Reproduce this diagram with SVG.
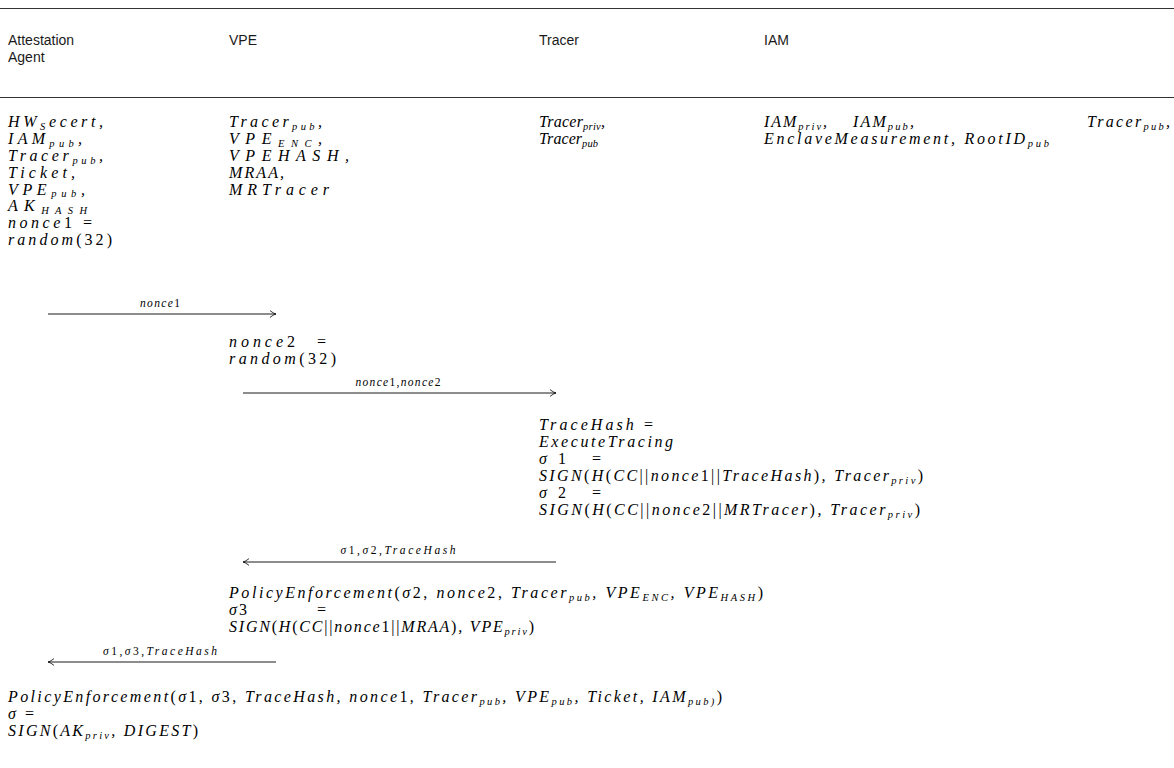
<svg xmlns="http://www.w3.org/2000/svg" width="1174" height="768" viewBox="0 0 1174 768">
<defs>
<style>
.h{font-family:"Liberation Sans",Arial,sans-serif;font-size:14px;fill:#1a1a1a}
.m{font-family:"Liberation Serif","Times New Roman",serif;font-size:16px;font-style:italic;fill:#000}
.u{font-style:normal}
.s{font-size:10.5px}
.lbl{font-family:"Liberation Serif","Times New Roman",serif;font-size:11.5px;font-style:italic;text-anchor:middle;fill:#000}
.rule{stroke:#333;stroke-width:1}
.msg{stroke:#000;stroke-width:0.9;fill:none}
</style>
<marker id="head" markerUnits="userSpaceOnUse" viewBox="-8 -5 10 10" refX="0" refY="0" markerWidth="10" markerHeight="10" orient="auto">
<path d="M-6,-3.4 C-3,-1 -1,-0.3 0,0 C-1,0.3 -3,1 -6,3.4" fill="none" stroke="#000" stroke-width="0.8"/>
</marker>
</defs>
<rect width="1174" height="768" fill="#fff"/>

<!-- table rules -->
<line class="rule" x1="0" y1="8.5" x2="1174" y2="8.5"/>
<line class="rule" x1="0" y1="97.5" x2="1174" y2="97.5"/>

<!-- participant headings -->
<g id="headers">
<text class="h" x="8" y="45">Attestation</text>
<text class="h" x="8" y="62">Agent</text>
<text class="h" x="229" y="45">VPE</text>
<text class="h" x="539" y="45">Tracer</text>
<text class="h" x="764" y="45">IAM</text>
</g>

<!-- Attestation Agent -->
<g id="agent">
<text class="m" x="8" y="127" textLength="95" lengthAdjust="spacing">HW<tspan class="s" dy="2.5">S</tspan><tspan dy="-2.5">ecert,</tspan></text>
<text class="m" x="8" y="144" textLength="74" lengthAdjust="spacing">IAM<tspan class="s" dy="2.5">pub</tspan><tspan dy="-2.5">,</tspan></text>
<text class="m" x="8" y="161" textLength="95" lengthAdjust="spacing">Tracer<tspan class="s" dy="2.5">pub</tspan><tspan dy="-2.5">,</tspan></text>
<text class="m" x="8" y="177.5" textLength="67" lengthAdjust="spacing">Ticket,</text>
<text class="m" x="8" y="194.5" textLength="77" lengthAdjust="spacing">VPE<tspan class="s" dy="2.5">pub</tspan><tspan dy="-2.5">,</tspan></text>
<text class="m" x="8" y="211" textLength="79" lengthAdjust="spacing">AK<tspan class="s" dy="2.5">HASH</tspan></text>
<text class="m" x="8" y="228" textLength="84" lengthAdjust="spacing">nonce<tspan class="u">1 =</tspan></text>
<text class="m" x="8" y="245" textLength="104" lengthAdjust="spacing">random<tspan class="u">(32)</tspan></text>
<text class="m" x="8" y="702" textLength="714" lengthAdjust="spacing">PolicyEnforcement<tspan class="u">(</tspan>σ<tspan class="u">1, </tspan>σ<tspan class="u">3, </tspan>TraceHash, nonce<tspan class="u">1, </tspan>Tracer<tspan class="s" dy="2.5">pub</tspan><tspan dy="-2.5">, VPE</tspan><tspan class="s" dy="2.5">pub</tspan><tspan dy="-2.5">, Ticket, IAM</tspan><tspan class="s" dy="2.5">pub)</tspan><tspan class="u" dy="-2.5">)</tspan></text>
<text class="m" x="8" y="719" textLength="26" lengthAdjust="spacing">σ <tspan class="u">=</tspan></text>
<text class="m" x="8" y="736" textLength="190" lengthAdjust="spacing">SIGN<tspan class="u">(</tspan>AK<tspan class="s" dy="2.5">priv</tspan><tspan dy="-2.5">, DIGEST</tspan><tspan class="u">)</tspan></text>
</g>

<!-- VPE -->
<g id="vpe">
<text class="m" x="229" y="127" textLength="93" lengthAdjust="spacing">Tracer<tspan class="s" dy="2.5">pub</tspan><tspan dy="-2.5">,</tspan></text>
<text class="m" x="229" y="144" textLength="93" lengthAdjust="spacing">VPE<tspan class="s" dy="2.5">ENC</tspan><tspan dy="-2.5">,</tspan></text>
<text class="m" x="229" y="161" textLength="120" lengthAdjust="spacing">VPEHASH,</text>
<text class="m" x="229" y="177.5" textLength="55" lengthAdjust="spacing">MRAA,</text>
<text class="m" x="229" y="194.5" textLength="100" lengthAdjust="spacing">MRTracer</text>
<text class="m" x="229" y="347" textLength="66" lengthAdjust="spacing">nonce<tspan class="u">2</tspan></text>
<text class="m u" x="317" y="347">=</text>
<text class="m" x="229" y="364" textLength="107" lengthAdjust="spacing">random<tspan class="u">(32)</tspan></text>
<text class="m" x="229" y="598" textLength="534" lengthAdjust="spacing">PolicyEnforcement<tspan class="u">(</tspan>σ<tspan class="u">2, </tspan>nonce<tspan class="u">2, </tspan>Tracer<tspan class="s" dy="2.5">pub</tspan><tspan dy="-2.5">, VPE</tspan><tspan class="s" dy="2.5">ENC</tspan><tspan dy="-2.5">, VPE</tspan><tspan class="s" dy="2.5">HASH</tspan><tspan class="u" dy="-2.5">)</tspan></text>
<text class="m" x="229" y="615" textLength="18" lengthAdjust="spacing">σ<tspan class="u">3</tspan></text>
<text class="m u" x="317" y="615">=</text>
<text class="m" x="229" y="632" textLength="305" lengthAdjust="spacing">SIGN<tspan class="u">(</tspan>H<tspan class="u">(</tspan>CC<tspan class="u">||</tspan>nonce<tspan class="u">1||</tspan>MRAA<tspan class="u">)</tspan>, VPE<tspan class="s" dy="2.5">priv</tspan><tspan class="u" dy="-2.5">)</tspan></text>
</g>

<!-- Tracer -->
<g id="tracer">
<text class="m" x="539" y="127" textLength="66" lengthAdjust="spacing">Tracer<tspan class="s" dy="2.5">priv</tspan><tspan dy="-2.5">,</tspan></text>
<text class="m" x="539" y="144" textLength="59" lengthAdjust="spacing">Tracer<tspan class="s" dy="2.5">pub</tspan></text>
<text class="m" x="539" y="430" textLength="114" lengthAdjust="spacing">TraceHash <tspan class="u">=</tspan></text>
<text class="m" x="539" y="447" textLength="134" lengthAdjust="spacing">ExecuteTracing</text>
<text class="m" x="539" y="464" textLength="62" lengthAdjust="spacing">σ<tspan class="u">1 =</tspan></text>
<text class="m" x="539" y="481" textLength="384" lengthAdjust="spacing">SIGN<tspan class="u">(</tspan>H<tspan class="u">(</tspan>CC<tspan class="u">||</tspan>nonce<tspan class="u">1||</tspan>TraceHash<tspan class="u">)</tspan>, Tracer<tspan class="s" dy="2.5">priv</tspan><tspan class="u" dy="-2.5">)</tspan></text>
<text class="m" x="539" y="498" textLength="62" lengthAdjust="spacing">σ<tspan class="u">2 =</tspan></text>
<text class="m" x="539" y="515" textLength="381" lengthAdjust="spacing">SIGN<tspan class="u">(</tspan>H<tspan class="u">(</tspan>CC<tspan class="u">||</tspan>nonce<tspan class="u">2||</tspan>MRTracer<tspan class="u">)</tspan>, Tracer<tspan class="s" dy="2.5">priv</tspan><tspan class="u" dy="-2.5">)</tspan></text>
</g>

<!-- IAM -->
<g id="iam">
<text class="m" x="764" y="127" textLength="63" lengthAdjust="spacing">IAM<tspan class="s" dy="2.5">priv</tspan><tspan dy="-2.5">,</tspan></text>
<text class="m" x="853" y="127" textLength="61" lengthAdjust="spacing">IAM<tspan class="s" dy="2.5">pub</tspan><tspan dy="-2.5">,</tspan></text>
<text class="m" x="1087" y="127" textLength="83" lengthAdjust="spacing">Tracer<tspan class="s" dy="2.5">pub</tspan><tspan dy="-2.5">,</tspan></text>
<text class="m" x="764" y="144" textLength="285" lengthAdjust="spacing">EnclaveMeasurement, RootID<tspan class="s" dy="2.5">pub</tspan></text>
</g>

<!-- messages -->
<g id="connectors">
<line class="msg" x1="48" y1="314" x2="276" y2="314" marker-end="url(#head)"/>
<text class="lbl" x="160" y="307" textLength="40" lengthAdjust="spacing">nonce<tspan class="u">1</tspan></text>
<line class="msg" x1="243" y1="393" x2="556" y2="393" marker-end="url(#head)"/>
<text class="lbl" x="398" y="386" textLength="85" lengthAdjust="spacing">nonce<tspan class="u">1,</tspan>nonce<tspan class="u">2</tspan></text>
<line class="msg" x1="556" y1="562" x2="243" y2="562" marker-end="url(#head)"/>
<text class="lbl" x="398" y="554" textLength="115" lengthAdjust="spacing">σ<tspan class="u">1,</tspan>σ<tspan class="u">2,</tspan>TraceHash</text>
<line class="msg" x1="276" y1="662" x2="48" y2="662" marker-end="url(#head)"/>
<text class="lbl" x="160" y="655" textLength="114" lengthAdjust="spacing">σ<tspan class="u">1,</tspan>σ<tspan class="u">3,</tspan>TraceHash</text>
</g>
</svg>
